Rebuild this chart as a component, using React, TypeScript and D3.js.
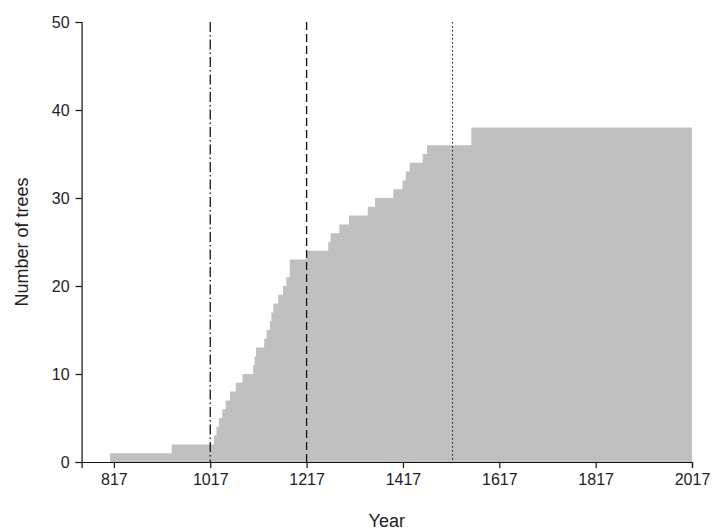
import { useEffect, useRef } from 'react';
import * as d3 from 'd3';

const width = 713;
const height = 532;
const [mt, mr, mb, ml] = [22, 21, 70, 81.6];

// year where the count steps up, and the cumulative number of trees from then on
const years = [809, 937, 1025, 1030, 1035, 1042, 1049, 1058, 1070, 1084, 1106, 1109, 1112, 1129, 1134, 1141, 1144, 1148, 1158, 1168, 1175, 1182, 1216, 1262, 1267, 1285, 1305, 1344, 1359, 1397, 1416, 1423, 1431, 1458, 1467, 1559, 2017];
const trees = [1, 2, 3, 4, 5, 6, 7, 8, 9, 10, 11, 12, 13, 14, 15, 16, 17, 18, 19, 20, 21, 23, 24, 25, 26, 27, 28, 29, 30, 31, 32, 33, 34, 35, 36, 38, 38];

const xTicks = [817, 1017, 1217, 1417, 1617, 1817, 2017];
const yTicks = [0, 10, 20, 30, 40, 50];

// reference lines
const markYears = [1017, 1217, 1520];
const markDash = ['10,3,1.5,3', '8,4', '1.5,2.5'];
const markWidth = [1.3, 1.3, 1];

export default function App() {
    const ref = useRef<SVGSVGElement>(null);

    useEffect(() => {
        const svg = d3.select(ref.current);
        svg.selectAll('*').remove();

        const x = d3.scaleLinear().domain([750, 2017]).range([ml, width - mr]);
        const y = d3.scaleLinear().domain([0, 50]).range([height - mb, mt]);

        const data = years.map((yr, i) => ({ yr, n: trees[i] }));

        const area = d3
            .area<{ yr: number; n: number }>()
            .curve(d3.curveStepAfter)
            .x((d) => x(d.yr))
            .y0(y(0))
            .y1((d) => y(d.n));

        svg.append('path').attr('d', area(data)).attr('fill', '#c0c0c0');

        // vertical lines
        markYears.forEach((yr, i) => {
            svg.append('line')
                .attr('x1', x(yr))
                .attr('x2', x(yr))
                .attr('y1', y(50))
                .attr('y2', y(0))
                .attr('stroke', '#111')
                .attr('stroke-width', markWidth[i])
                .attr('stroke-dasharray', markDash[i]);
        });

        const font = 'Liberation Sans, Arial, sans-serif';

        svg.append('g')
            .attr('transform', `translate(0,${y(0)})`)
            .call(d3.axisBottom(x).tickValues(xTicks).tickFormat(d3.format('d')).tickSize(6).tickPadding(6))
            .call((g) => g.selectAll('line, path').attr('stroke', '#111').attr('stroke-width', 1.2))
            .call((g) => g.selectAll('text').attr('font-family', font).attr('font-size', 16).attr('fill', '#222'));

        svg.append('g')
            .attr('transform', `translate(${ml},0)`)
            .call(d3.axisLeft(y).tickValues(yTicks).tickSize(6).tickPadding(6))
            .call((g) => g.selectAll('line, path').attr('stroke', '#111').attr('stroke-width', 1.2))
            .call((g) => g.selectAll('text').attr('font-family', font).attr('font-size', 16).attr('fill', '#222'));

        svg.append('text')
            .attr('x', (ml + width - mr) / 2)
            .attr('y', 527)
            .attr('text-anchor', 'middle')
            .attr('font-family', font)
            .attr('font-size', 18)
            .attr('fill', '#222')
            .text('Year');

        svg.append('text')
            .attr('transform', `translate(28,${(mt + height - mb) / 2}) rotate(-90)`)
            .attr('text-anchor', 'middle')
            .attr('font-family', font)
            .attr('font-size', 18)
            .attr('fill', '#222')
            .text('Number of trees');
    }, []);

    return (
        <div style={{ position: 'absolute', top: 0, left: 0, background: '#fff' }}>
            <svg ref={ref} width={width} height={height} />
        </div>
    );
}
